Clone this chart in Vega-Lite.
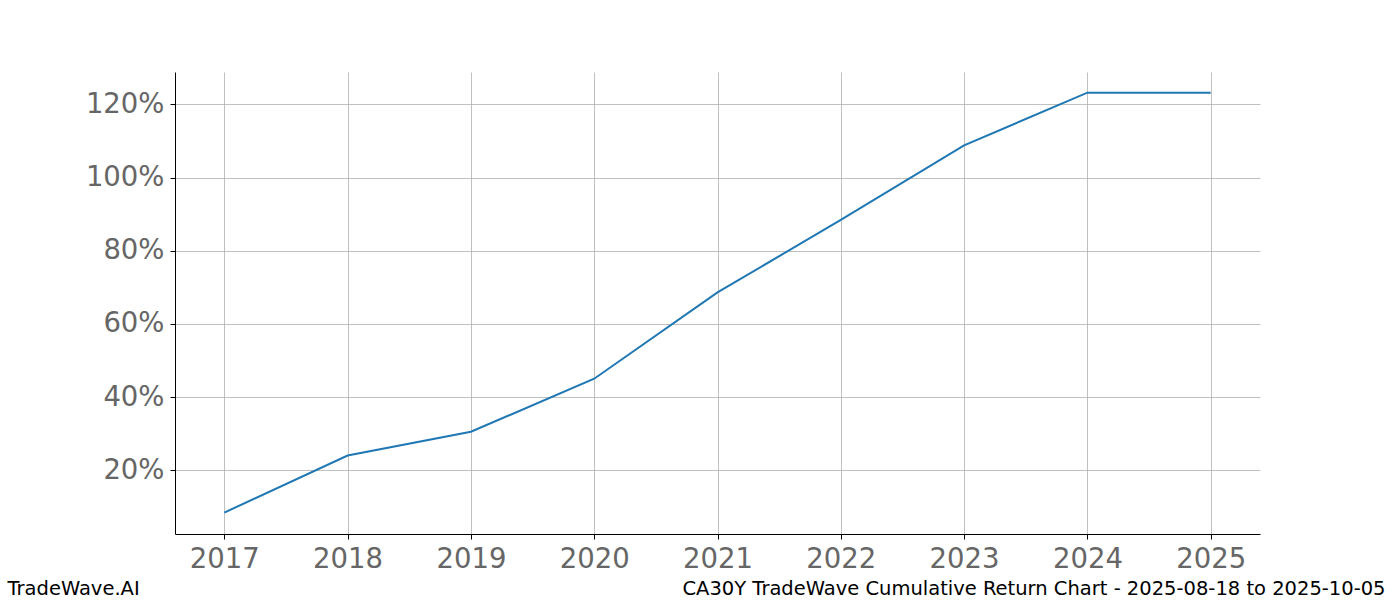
{
  "$schema": "https://vega.github.io/schema/vega-lite/v6.json",
  "width": 1085,
  "height": 462,
  "autosize": {"type": "none"},
  "padding": {"left": 175, "top": 72, "right": 140, "bottom": 66},
  "background": "white",
  "data": {
    "values": [
      {"year": 2017, "ret": 8.4},
      {"year": 2018, "ret": 24.0},
      {"year": 2019, "ret": 30.5},
      {"year": 2020, "ret": 45.0},
      {"year": 2021, "ret": 68.6},
      {"year": 2022, "ret": 88.4},
      {"year": 2023, "ret": 108.8},
      {"year": 2024, "ret": 123.2},
      {"year": 2025, "ret": 123.2}
    ]
  },
  "mark": {"type": "line", "color": "#1f77b4", "strokeWidth": 2},
  "encoding": {
    "x": {
      "field": "year",
      "type": "quantitative",
      "scale": {"domain": [2016.6, 2025.4], "nice": false, "zero": false},
      "axis": {
        "values": [2017, 2018, 2019, 2020, 2021, 2022, 2023, 2024, 2025],
        "format": "d",
        "title": "CA30Y TradeWave Cumulative Return Chart - 2025-08-18 to 2025-10-05",
        "titleX": 1210,
        "titleY": 60,
        "titleAlign": "right",
        "titleAnchor": null,
        "titleBaseline": "alphabetic",
        "titleFontSize": 19.5,
        "titleFontWeight": "normal",
        "titleColor": "black",
        "titleFont": "DejaVu Sans"
      }
    },
    "y": {
      "field": "ret",
      "type": "quantitative",
      "scale": {"domain": [2.55, 128.85], "nice": false, "zero": false},
      "axis": {
        "values": [20, 40, 60, 80, 100, 120],
        "labelExpr": "datum.value + '%'",
        "title": "TradeWave.AI",
        "titleAngle": 0,
        "titleX": -168,
        "titleY": 522,
        "titleAlign": "left",
        "titleAnchor": null,
        "titleBaseline": "alphabetic",
        "titleFontSize": 19.5,
        "titleFontWeight": "normal",
        "titleColor": "black",
        "titleFont": "DejaVu Sans"
      }
    }
  },
  "config": {
    "view": {"stroke": null},
    "axis": {
      "grid": true,
      "gridColor": "#b0b0b0",
      "gridWidth": 0.8,
      "domainColor": "black",
      "domainWidth": 1,
      "tickColor": "black",
      "tickSize": 5,
      "tickWidth": 1,
      "labelFont": "DejaVu Sans",
      "labelFontSize": 27.5,
      "labelColor": "#666666",
      "labelPadding": 6
    }
  }
}
